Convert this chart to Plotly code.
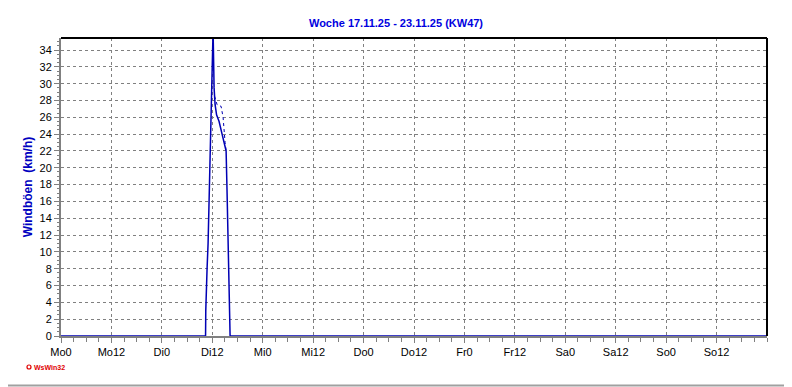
import plotly.graph_objects as go

# ---- data ----
tick_labels = ["Mo0", "Mo12", "Di0", "Di12", "Mi0", "Mi12", "Do0", "Do12",
               "Fr0", "Fr12", "Sa0", "Sa12", "So0", "So12"]
tick_hours = [0, 12, 24, 36, 48, 60, 72, 84, 96, 108, 120, 132, 144, 156]

# hours since Monday 00:00, gust speed in km/h
hours = [0, 34.4, 34.45, 34.64, 34.76, 35.0, 35.24, 35.48, 35.71, 35.95, 36.19,
         36.43, 36.67, 37.02, 37.62, 38.33, 38.81, 39.29, 39.52, 39.76, 40.0,
         40.17, 40.24, 168]
gusts = [0, 0, 3, 5, 8, 11, 16, 21, 25.5, 29, 36.4,
         29.5, 27.5, 26.3, 25.5, 24, 23, 22, 17, 12, 6,
         2, 0, 0]

# secondary thin trace (the second path around the peak)
hours2 = [36.55, 36.79, 37.14, 38.1, 38.57, 39.05, 39.29]
gusts2 = [28.5, 28, 27.5, 27.3, 26, 23, 22]

BLUE = "#0000b4"

fig = go.Figure()
fig.add_trace(go.Scatter(x=hours2, y=gusts2, mode="lines",
                         line=dict(color=BLUE, width=1, dash="dot"),
                         hoverinfo="skip", showlegend=False))
fig.add_trace(go.Scatter(x=hours, y=gusts, mode="lines",
                         line=dict(color=BLUE, width=1.5),
                         showlegend=False))

OFF = 8  # browser body margin
WIN_W, WIN_H = 792, 387
W, H = WIN_W - OFF, WIN_H - OFF
PL, PR, PT, PB = 61, 767, 38, 336  # plot area in window pixels
L, R, T, B = PL - OFF, WIN_W - PR, PT - OFF, WIN_H - PB
pw, ph = PR - PL, PB - PT

def px(xp):
    return (xp - PL) / pw

def py(yp):
    return (PB - yp) / ph

fig.update_layout(
    width=W, height=H,
    margin=dict(l=L, r=R, t=T, b=B),
    paper_bgcolor="white", plot_bgcolor="white",
    font=dict(family="Liberation Sans, Arial, sans-serif", size=11, color="black"),
    title=dict(text="<b>Woche 17.11.25 - 23.11.25 (KW47)</b>",
               x=px(396), xref="paper", xanchor="center",
               y=1 - (23 - OFF) / H, yref="container", yanchor="middle",
               font=dict(family="Liberation Sans, Arial, sans-serif", size=11, color="#0000e0")),
    xaxis=dict(range=[0, 168], tickmode="array", tickvals=tick_hours, ticktext=tick_labels,
               showgrid=True, gridcolor="#808080", griddash="3px,3px", gridwidth=1,
               showline=True, linecolor="#808080", linewidth=2,
               ticks="outside", ticklen=5, tickcolor="#808080",
               minor=dict(dtick=3, tick0=0, ticks="outside", ticklen=4, tickcolor="#808080",
                          showgrid=False),
               zeroline=False, fixedrange=True,
               tickfont=dict(size=11, color="black")),
    yaxis=dict(range=[0, 35.43], tickmode="linear", tick0=0, dtick=2,
               showgrid=True, gridcolor="#808080", griddash="3px,3px", gridwidth=1,
               showline=True, linecolor="#808080", linewidth=2,
               ticks="outside", ticklen=5, tickcolor="#808080",
               minor=dict(dtick=0.5, tick0=0, ticks="outside", ticklen=2, tickcolor="#808080",
                          showgrid=False),
               zeroline=False, fixedrange=True,
               title=dict(text="<b>Windböen  (km/h)</b>", standoff=4,
                          font=dict(size=12, color="#0000c0")),
               tickfont=dict(size=11, color="black")),
    shapes=[
        dict(type="line", xref="paper", yref="paper", x0=0, x1=1, y0=1, y1=1,
             line=dict(color="black", width=2)),
        dict(type="line", xref="paper", yref="paper", x0=1, x1=1, y0=0, y1=1,
             line=dict(color="black", width=2)),
        dict(type="line", xref="paper", yref="paper", x0=px(790), x1=px(790),
             y0=py(387), y1=py(OFF), line=dict(color="#a0a0a0", width=2)),
        dict(type="line", xref="paper", yref="paper", x0=px(OFF), x1=px(792),
             y0=py(385.5), y1=py(385.5), line=dict(color="#a0a0a0", width=2)),
        dict(type="circle", xref="paper", yref="paper", x0=px(27), x1=px(31),
             y0=py(369), y1=py(365), line=dict(color="#e00000", width=1.2)),
    ],
    annotations=[
        dict(text="<b>WsWin32</b>", xref="paper", yref="paper",
             x=px(32), y=py(367), xanchor="left", yanchor="middle", showarrow=False,
             font=dict(family="Liberation Sans, Arial, sans-serif", size=7, color="#e00000")),
    ],
)

fig.write_html("out.html")
